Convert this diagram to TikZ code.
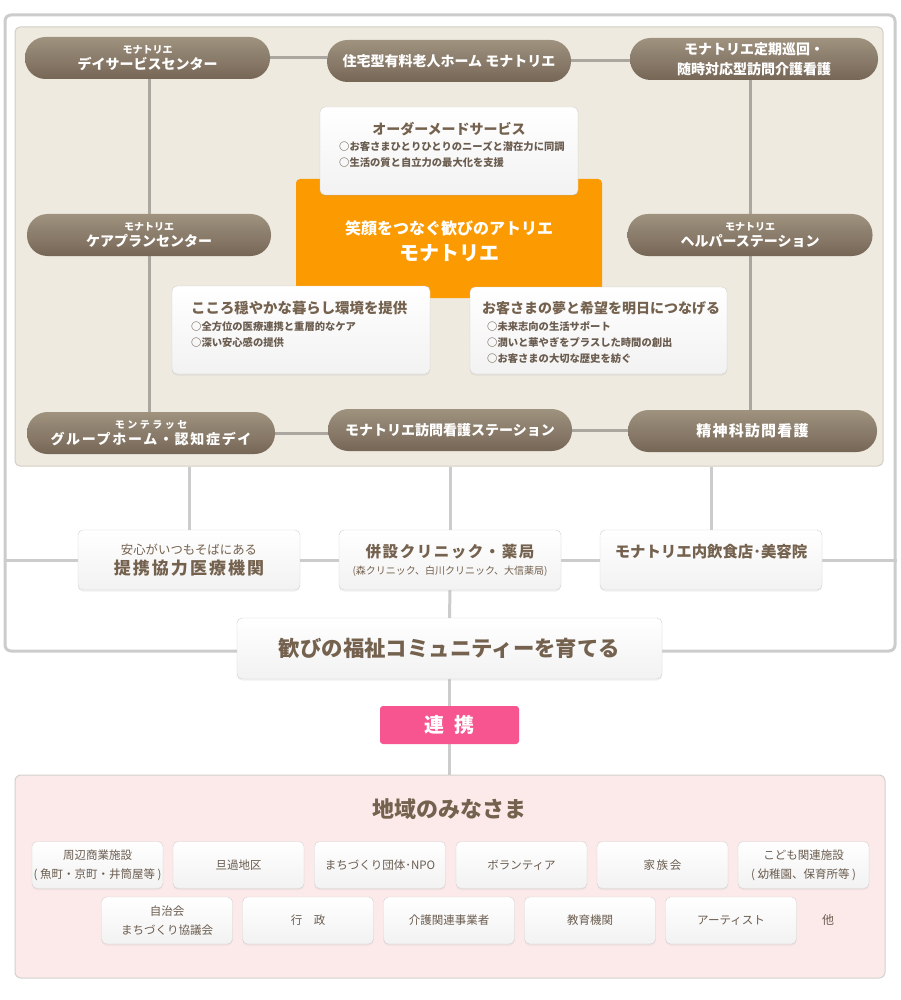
\documentclass[tikz,border=0pt]{standalone}
\usepackage{fontspec}
\setmainfont{Noto Sans CJK JP}
\usetikzlibrary{shadows}
\pgfdeclarelayer{bg}
\pgfdeclarelayer{lines}
\pgfsetlayers{bg,lines,main}
\newcommand\fsz[2]{\fontsize{#1}{#2}\selectfont}
\newcommand\lsp[1]{\addfontfeature{LetterSpace=#1}}
\definecolor{pilltop}{HTML}{9F927F}
\definecolor{pillbot}{HTML}{766656}
\definecolor{beige}{HTML}{EEEAE0}
\definecolor{beigeline}{HTML}{D2CEC5}
\definecolor{framegray}{HTML}{CCCCCC}
\definecolor{linkgray}{HTML}{ABA7A0}
\definecolor{titlebrown}{HTML}{74614E}
\definecolor{itembrown}{HTML}{6A5C4F}
\definecolor{orangebox}{HTML}{FC9A02}
\definecolor{pinkbox}{HTML}{F65590}
\definecolor{pinkpanel}{HTML}{FCEAEA}
\definecolor{boxline}{HTML}{D3D1CE}
\definecolor{boxbottom}{HTML}{F2F2F2}
\begin{document}
\begin{tikzpicture}[x=1pt,y=-1pt,
  pill/.style={rounded corners=20.5pt, top color=pilltop, bottom color=pillbot,
    minimum height=42pt, inner sep=0pt, text=white, align=center,
    font=\fsz{14}{16}\bfseries},
  wbox/.style={rounded corners=5pt, draw=boxline, top color=white, bottom color=boxbottom,
    inner sep=0pt, drop shadow={opacity=0.10, shadow xshift=0pt, shadow yshift=-1.5pt}},
  sbox/.style={wbox, minimum width=131pt, minimum height=47pt, text=itembrown,
    align=center, font=\fsz{11.5}{19}},
  link/.style={draw=linkgray, line width=3pt},
  outer/.style={draw=framegray, line width=3pt},
  btitle/.style={text=titlebrown, font=\fsz{14}{16}\bfseries, inner sep=0pt},
  bitems/.style={text=itembrown, font=\fsz{10.3}{16}\bfseries, inner sep=0pt, align=left, anchor=west}
]
\useasboundingbox (0,0) rectangle (900,1000);

\begin{pgfonlayer}{bg}
\fill[white] (0,0) rectangle (900,1000);
\node[outer, fill=white, rounded corners=6pt, minimum width=890pt, minimum height=636pt] (frame) at (450,333) {};
\node[draw=beigeline, fill=beige, line width=1pt, rounded corners=5pt, minimum width=868pt, minimum height=439pt] (panel) at (449,246.5) {};
\node[draw=boxline, fill=pinkpanel, line width=1pt, rounded corners=6pt, minimum width=870pt, minimum height=203pt] (community) at (450,876.5) {};
\end{pgfonlayer}

% brown pills
\node[pill, minimum width=245pt] (dei) at (147.5,58) {{\fsz{10}{12}モナトリエ}\\デイサービスセンター};
\node[pill, minimum width=244pt] (jutaku) at (449,61) {住宅型有料老人ホーム モナトリエ};
\node[pill, minimum width=248pt, font=\fsz{14}{20}\bfseries] (teiki) at (754,59) {モナトリエ定期巡回・\\随時対応型訪問介護看護};
\node[pill, minimum width=244pt] (care) at (149,235) {{\fsz{10}{12}モナトリエ}\\ケアプランセンター};
\node[pill, minimum width=245pt] (helper) at (750,235) {{\fsz{10}{12}モナトリエ}\\ヘルパーステーション};
\node[pill, minimum width=248pt] (group) at (151,433) {{\fsz{10}{12}\lsp{25}モンテラッセ}\\{\lsp{12}グループホーム・認知症デイ}};
\node[pill, minimum width=244pt] (houmon) at (450,430) {モナトリエ訪問看護ステーション};
\node[pill, minimum width=249pt] (seishin) at (752.5,431) {{\fsz{15}{16}\lsp{8}精神科訪問看護}};

% centre
\node[fill=orangebox, rounded corners=4pt, minimum width=306pt, minimum height=119pt, inner sep=0pt] (atelier) at (449,238.5) {};
\node[text=white, font=\fsz{16}{26}\bfseries, align=center, inner sep=0pt] (atelierText) at (449,241) {笑顔をつなぐ歓びのアトリエ\\{\fsz{20}{26}モナトリエ}};

\node[wbox, minimum width=258pt, minimum height=88pt] (order) at (449,151) {};
\node[btitle] (orderT) at (449,129) {オーダーメードサービス};
\node[bitems] (orderI) at (339,155) {○お客さまひとりひとりのニーズと潜在力に同調\\○生活の質と自立力の最大化を支援};

\node[wbox, minimum width=258pt, minimum height=88pt] (kokoro) at (301,330) {};
\node[btitle, anchor=west, font=\fsz{14.4}{16}\bfseries] (kokoroT) at (191,308) {こころ穏やかな暮らし環境を提供};
\node[bitems] (kokoroI) at (191,335) {○全方位の医療連携と重層的なケア\\○深い安心感の提供};

\node[wbox, minimum width=257pt, minimum height=87pt] (yume) at (598.5,330.5) {};
\node[btitle, anchor=west] (yumeT) at (482,308) {お客さまの夢と希望を明日につなげる};
\node[bitems] (yumeI) at (487,343) {○未来志向の生活サポート\\○潤いと華やぎをプラスした時間の創出\\○お客さまの大切な歴史を紡ぐ};

% middle row
\node[wbox, minimum width=222pt, minimum height=60pt, text=titlebrown, align=center, font=\fsz{12.4}{20.7}] (teikei) at (189,560)
  {安心がいつもそばにある\\{\fsz{17}{20.7}\bfseries\lsp{12}提携協力医療機関}};
\node[wbox, minimum width=222pt, minimum height=60pt, text=titlebrown, align=center, font=\fsz{10}{16.7}] (clinic) at (450,560)
  {{\fsz{15.5}{16.7}\bfseries\lsp{10}併設クリニック・薬局}\\(森クリニック、白川クリニック、大信薬局)};
\node[wbox, minimum width=222pt, minimum height=60pt] (shop) at (711,560) {};
\node[text=titlebrown, font=\fsz{15.4}{16}\bfseries, inner sep=0pt] (shopT) at (711,552) {モナトリエ内飲食店･美容院};

\node[wbox, minimum width=425pt, minimum height=61pt, text=titlebrown, font=\fsz{21.4}{24}\bfseries] (yorokobi) at (449.5,648.5) {歓びの福祉コミュニティーを育てる};

\node[fill=pinkbox, rounded corners=3pt, minimum width=139pt, minimum height=38pt, inner sep=0pt, text=white, font=\fsz{20}{22}\bfseries] (renkei) at (449.5,725) {\lsp{50}連携};

% community
\node[text=titlebrown, font=\fsz{22}{24}\bfseries, inner sep=0pt] (chiiki) at (449,809) {地域のみなさま};
\node[sbox] (s1) at (97.5,865) {周辺商業施設\\( 魚町・京町・井筒屋等 )};
\node[sbox] (s2) at (238.5,865) {旦過地区};
\node[sbox] (s3) at (380,865) {まちづくり団体･NPO};
\node[sbox] (s4) at (521.5,865) {ボランティア};
\node[sbox] (s5) at (662.5,865) {\lsp{15}家族会};
\node[sbox] (s6) at (803.5,865) {こども関連施設\\( 幼稚園、保育所等 )};
\node[sbox] (t1) at (167,920.5) {自治会\\まちづくり協議会};
\node[sbox] (t2) at (308,920.5) {行　政};
\node[sbox] (t3) at (449,920.5) {介護関連事業者};
\node[sbox] (t4) at (590,920.5) {教育機関};
\node[sbox] (t5) at (731,920.5) {アーティスト};
\node[text=itembrown, font=\fsz{12}{14}, inner sep=0pt] (hoka) at (828,920) {他};

\begin{pgfonlayer}{lines}
\draw[link] (dei.east) -- (dei.east -| jutaku.west);
\draw[link] (jutaku.east) -- (jutaku.east -| teiki.west);
\draw[link] (care.center |- dei.south) -- (care.center |- group.north);
\draw[link] (helper.center |- teiki.south) -- (helper.center |- seishin.north);
\draw[link] (group.east) -- (group.east -| houmon.west);
\draw[link] (houmon.east) -- (houmon.east -| seishin.west);
\draw[outer] (teikei.north) -- (teikei.north |- panel.south);
\draw[outer] (clinic.north) -- (clinic.north |- panel.south);
\draw[outer] (shop.north) -- (shop.north |- panel.south);
\draw[outer] (teikei.west) -- (teikei.west -| frame.west);
\draw[outer] (teikei.east) -- (clinic.west);
\draw[outer] (clinic.east) -- (shop.west);
\draw[outer] (shop.east) -- (shop.east -| frame.east);
\draw[outer] (clinic.south) -- (yorokobi.north);
\draw[outer] (yorokobi.south) -- (renkei.north);
\draw[outer] (renkei.south) -- (renkei.south |- community.north);
\end{pgfonlayer}
\end{tikzpicture}
\end{document}
